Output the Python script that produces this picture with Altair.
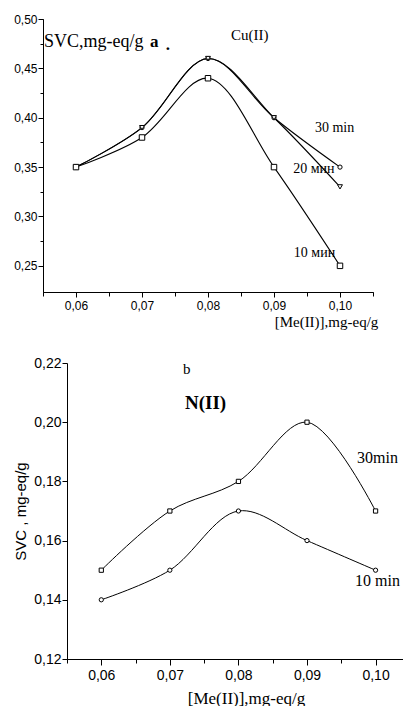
import altair as alt
import pandas as pd

# ---------------- data ----------------
x_vals = [0.06, 0.07, 0.08, 0.09, 0.10]

cu_30 = [0.35, 0.39, 0.46, 0.40, 0.35]
cu_20 = [0.35, 0.39, 0.46, 0.40, 0.33]
cu_10 = [0.35, 0.38, 0.44, 0.35, 0.25]

ni_30 = [0.15, 0.17, 0.18, 0.20, 0.17]
ni_10 = [0.14, 0.15, 0.17, 0.16, 0.15]

x_ticks = [0.06, 0.07, 0.08, 0.09, 0.10]
x_minor_top = [0.055, 0.065, 0.075, 0.085, 0.095, 0.105]
x_minor_bot = [0.055, 0.065, 0.075, 0.085, 0.095]
cu_y_ticks = [0.25, 0.30, 0.35, 0.40, 0.45, 0.50]
cu_y_minor = [0.275, 0.325, 0.375, 0.425, 0.475]
ni_y_ticks = [0.12, 0.14, 0.16, 0.18, 0.20, 0.22]

cu_curve_labels = ["30 min", "20 мин", "10 мин"]
cu_curve_label_x = [0.0962, 0.0929, 0.0930]
cu_curve_label_y = [0.390, 0.348, 0.263]

ni_curve_labels = ["30min", "10 min"]
ni_curve_label_x = [0.0973, 0.0970]
ni_curve_label_y = [0.1879, 0.1464]

LABEL_EXPR = "replace(format(datum.value, '.2f'), '.', ',')"
SERIF = "Liberation Serif"
SANS = "Liberation Sans"


def text_layer(xs, ys, texts, xs_scale, ys_scale, size, weight="normal", font=SERIF):
    df = pd.DataFrame({"x": xs, "y": ys, "t": texts})
    return alt.Chart(df).mark_text(
        align="left", baseline="middle", font=font, fontSize=size,
        fontWeight=weight, color="black"
    ).encode(
        x=alt.X("x:Q", scale=xs_scale, axis=None),
        y=alt.Y("y:Q", scale=ys_scale, axis=None),
        text="t:N",
    )


def series_df(names, series):
    rows = []
    for n, s in zip(names, series):
        for xv, yv in zip(x_vals, s):
            rows.append({"x": xv, "y": yv, "s": n})
    return pd.DataFrame(rows)


# ---------------- top chart: Cu(II) ----------------
cu_names = ["Cu 30", "Cu 20", "Cu 10"]
cu_df = series_df(cu_names, [cu_30, cu_20, cu_10])
xs_top = alt.Scale(domain=[0.055, 0.105], range=[-24, 306], nice=False, zero=False)
ys_top = alt.Scale(domain=[0.2235, 0.50], nice=False, zero=False)

top_lines = alt.Chart(cu_df).mark_line(
    interpolate="catmull-rom", color="black", strokeWidth=1.1
).encode(
    x=alt.X("x:Q", scale=xs_top, axis=alt.Axis(
        orient="bottom", values=x_ticks, labelExpr=LABEL_EXPR, grid=False,
        tickSize=5, tickColor="black", domainColor="black",
        labelFont=SANS, labelFontSize=12, labelColor="black", labelPadding=3,
        title="[Me(II)],mg-eq/g", titleFont=SERIF, titleFontSize=15,
        titleFontWeight="normal", titleColor="black",
        titleX=259, titleY=29, titleAlign="center", titleBaseline="middle")),
    y=alt.Y("y:Q", scale=ys_top, axis=alt.Axis(
        orient="left", offset=24, values=cu_y_ticks, labelExpr=LABEL_EXPR,
        grid=False, tickSize=5, tickColor="black", domainColor="black",
        labelFont=SANS, labelFontSize=12, labelColor="black", labelPadding=1,
        title=None)),
    detail="s:N",
)

top_points = alt.Chart(cu_df).mark_point(
    filled=True, fill="white", stroke="black", strokeWidth=1, opacity=1
).encode(
    x=alt.X("x:Q", scale=xs_top, axis=alt.Axis(
        orient="bottom", values=x_minor_top, labels=False, grid=False,
        tickSize=4, tickColor="black", domainColor="black", title=None)),
    y=alt.Y("y:Q", scale=ys_top, axis=alt.Axis(
        orient="left", offset=24, values=cu_y_minor, labels=False, grid=False,
        tickSize=3, tickColor="black", domainColor="black", title=None)),
    shape=alt.Shape("s:N", scale=alt.Scale(
        domain=cu_names, range=["circle", "triangle-down", "square"]),
        legend=None),
    size=alt.Size("s:N", scale=alt.Scale(
        domain=cu_names, range=[18, 30, 18]), legend=None),
)

top_chart = alt.layer(
    top_lines,
    top_points,
    text_layer([0.05515], [0.4766], ["SVC,mg-eq/g"], xs_top, ys_top, 18),
    text_layer([0.0712], [0.4766], ["a"], xs_top, ys_top, 17, weight="bold"),
    text_layer([0.0736], [0.4740], ["."], xs_top, ys_top, 17, weight="bold"),
    text_layer([0.0835], [0.4837], ["Cu(II)"], xs_top, ys_top, 15),
    text_layer(cu_curve_label_x, cu_curve_label_y, cu_curve_labels, xs_top, ys_top, 14),
).resolve_axis(x="independent", y="independent").properties(width=306, height=273)

# ---------------- bottom chart: Ni(II) ----------------
ni_names = ["Ni 30", "Ni 10"]
ni_df = series_df(ni_names, [ni_30, ni_10])
xs_bot = alt.Scale(domain=[0.055, 0.104], nice=False, zero=False)
ys_bot = alt.Scale(domain=[0.12, 0.22], nice=False, zero=False)

bot_lines = alt.Chart(ni_df).mark_line(
    interpolate="catmull-rom", color="black", strokeWidth=1
).encode(
    x=alt.X("x:Q", scale=xs_bot, axis=alt.Axis(
        orient="bottom", values=x_ticks, labelExpr=LABEL_EXPR, grid=False,
        tickSize=6, tickColor="black", domainColor="black",
        labelFont=SANS, labelFontSize=14, labelColor="black", labelPadding=3,
        title="[Me(II)],mg-eq/g", titleFont=SERIF, titleFontSize=17,
        titleFontWeight="normal", titleColor="black",
        titleX=179, titleY=39, titleAlign="center", titleBaseline="middle")),
    y=alt.Y("y:Q", scale=ys_bot, axis=alt.Axis(
        orient="left", values=ni_y_ticks, labelExpr=LABEL_EXPR,
        grid=False, tickSize=5, tickColor="black", domainColor="black",
        labelFont=SANS, labelFontSize=14, labelColor="black", labelPadding=1,
        title="SVC , mg-eq/g", titleFont=SANS, titleFontSize=15,
        titleFontWeight="normal", titleColor="black",
        titleX=-47, titleY=148, titleAlign="center", titleBaseline="middle",
        titleAngle=270)),
    detail="s:N",
)

bot_points = alt.Chart(ni_df).mark_point(
    filled=True, fill="white", stroke="black", strokeWidth=1, opacity=1
).encode(
    x=alt.X("x:Q", scale=xs_bot, axis=alt.Axis(
        orient="bottom", values=x_minor_bot, labels=False, grid=False,
        tickSize=4, tickColor="black", domainColor="black", title=None)),
    y=alt.Y("y:Q", scale=ys_bot, axis=None),
    shape=alt.Shape("s:N", scale=alt.Scale(
        domain=ni_names, range=["square", "circle"]), legend=None),
    size=alt.value(18),
)

bot_chart = alt.layer(
    bot_lines,
    bot_points,
    text_layer([0.0719], [0.2180], ["b"], xs_bot, ys_bot, 15),
    text_layer([0.0722], [0.2065], ["N(II)"], xs_bot, ys_bot, 19, weight="bold"),
    text_layer(ni_curve_label_x, ni_curve_label_y, ni_curve_labels, xs_bot, ys_bot, 16),
).resolve_axis(x="independent", y="independent").properties(width=336, height=296)

chart = alt.vconcat(top_chart, bot_chart, spacing=27).resolve_scale(
    shape="independent", size="independent"
).properties(
    padding={"left": 5, "top": 5, "right": 0, "bottom": 0},
    background="white",
).configure_view(stroke=None)

chart.save("out.html", embed_options={"renderer": "svg", "actions": False})
